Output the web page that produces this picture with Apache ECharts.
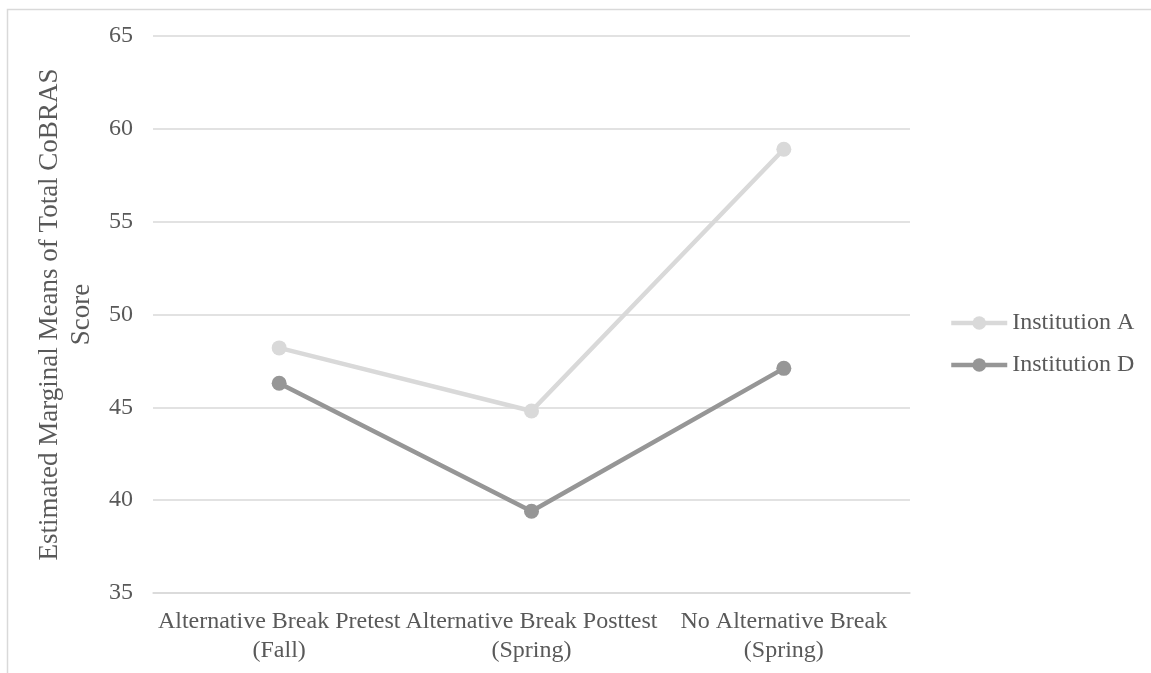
<!DOCTYPE html>
<html>
<head>
<meta charset="utf-8">
<script src="https://cdn.jsdelivr.net/npm/echarts@6/dist/echarts.min.js"></script>
<style>
html,body{margin:0;padding:0;background:#fff;}
#chart{width:1151px;height:673px;}
</style>
</head>
<body>
<div id="chart"></div>
<script>
const categories = ["Alternative Break Pretest\n(Fall)", "Alternative Break Posttest\n(Spring)", "No Alternative Break\n(Spring)"];
const seriesNames = ["Institution A", "Institution D"];
const institutionA = [48.2, 44.8, 58.9];
const institutionD = [46.3, 39.4, 47.1];
const yTicks = [35, 40, 45, 50, 55, 60, 65];
const yTitle = "Estimated Marginal Means of Total CoBRAS\nScore";

const FONT = "'Liberation Serif', 'Times New Roman', serif";
const TXT = "#595959";
const colorA = "#d9d9d9";
const colorD = "#969696";

const chart = echarts.init(document.getElementById('chart'), null, {renderer: 'canvas'});
chart.setOption({
  backgroundColor: '#ffffff',
  animation: false,
  graphic: [{
    type: 'rect',
    left: 5, top: 7,
    shape: {width: 1200, height: 720},
    style: {fill: 'none', stroke: '#d9d9d9', lineWidth: 1.5},
    silent: true
  }],
  grid: {left: 153, right: 241, top: 36, bottom: 80, containLabel: false},
  legend: {
    orient: 'vertical',
    left: 949,
    top: 311,
    padding: 0,
    itemWidth: 56,
    itemHeight: 17,
    itemGap: 18,
    data: seriesNames,
    lineStyle: {width: 4.5},
    textStyle: {fontFamily: FONT, fontSize: 24, color: TXT}
  },
  xAxis: {
    type: 'category',
    data: categories,
    boundaryGap: true,
    axisLine: {show: true, lineStyle: {color: '#d9d9d9', width: 1.5}},
    axisTick: {show: false},
    axisLabel: {
      interval: 0,
      margin: 14,
      fontFamily: FONT, fontSize: 24, color: TXT, lineHeight: 29
    }
  },
  yAxis: {
    type: 'value',
    min: yTicks[0],
    max: yTicks[yTicks.length - 1],
    interval: 5,
    name: yTitle,
    nameLocation: 'middle',
    nameRotate: 90,
    nameGap: 42,
    nameTextStyle: {fontFamily: FONT, fontSize: 27, color: TXT, lineHeight: 32, align: 'center'},
    axisLine: {show: false},
    axisTick: {show: false},
    axisLabel: {margin: 20, fontFamily: FONT, fontSize: 24, color: TXT},
    splitLine: {show: true, lineStyle: {color: '#d9d9d9', width: 1.5}}
  },
  series: [
    {
      name: seriesNames[0],
      type: 'line',
      data: institutionA,
      symbol: 'circle',
      symbolSize: 15,
      lineStyle: {color: colorA, width: 4.5},
      itemStyle: {color: colorA},
      z: 3
    },
    {
      name: seriesNames[1],
      type: 'line',
      data: institutionD,
      symbol: 'circle',
      symbolSize: 15,
      lineStyle: {color: colorD, width: 4.5},
      itemStyle: {color: colorD},
      z: 4
    }
  ]
});
</script>
</body>
</html>
